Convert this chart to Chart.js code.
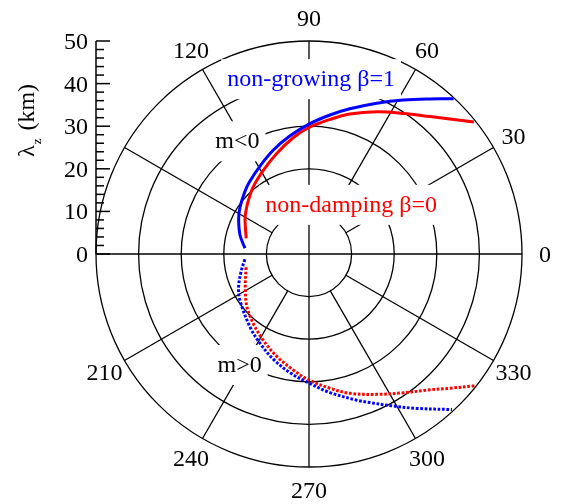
<!DOCTYPE html>
<html>
<head>
<meta charset="utf-8">
<script src="https://cdn.jsdelivr.net/npm/chart.js@4"></script>
<style>
  body { margin: 0; background: #fff; }
  #wrap { width: 562px; height: 504px; position: relative; }
</style>
</head>
<body>
<div id="wrap"><canvas id="polarChart"></canvas></div>
<script>
// polar angle in degrees, lambda_z in km
const thetaGrowingNeg = [174.9, 164.6, 153.2, 145.6, 135.8, 129.8, 119.3, 108.9, 99.1, 90, 81.4, 74.3, 65.8, 58.5, 52, 47];
const lambdaGrowingNeg = [15.1, 16.8, 18.5, 19.6, 21.0, 21.9, 23.6, 25.8, 28.1, 30.5, 33.0, 35.4, 38.8, 42.4, 46.2, 49.8];

const thetaDampingNeg = [166, 150.8, 143.7, 139.1, 129.6, 118.5, 107.8, 97.6, 90, 81, 73.8, 64.4, 56, 48.6, 43.8, 38.7];
const lambdaDampingNeg = [15.2, 17.2, 18.2, 18.9, 20.5, 22.4, 24.8, 27.6, 29.7, 32.0, 34.2, 37.0, 39.8, 43.0, 45.8, 49.6];

const thetaGrowingPos = [184.7, 193.4, 204.8, 213.7, 230.9, 241.2, 251.4, 260.8, 270, 278.6, 288.1, 292.3, 299, 304.9, 312.6];
const lambdaGrowingPos = [15.1, 16.3, 18.2, 19.5, 22.0, 23.9, 26.1, 28.2, 30.3, 32.9, 36.1, 37.7, 40.8, 44.2, 49.6];

const thetaDampingPos = [191.9, 207.7, 220.2, 231.2, 242, 252.5, 262.3, 270, 278.9, 286.4, 295.8, 304.2, 311.7, 316.4, 321.6];
const lambdaDampingPos = [15.1, 16.9, 19.1, 20.9, 22.9, 25.2, 27.5, 29.6, 31.9, 34.1, 36.6, 39.4, 42.7, 45.7, 49.8];

// rings, spokes and tick labels
const ringValues = [10, 20, 30, 40, 50];
const spokeAngles = [0, 30, 60, 90, 120, 150, 180, 210, 240, 270, 300, 330];
const angleLabels = [0, 30, 60, 90, 120, 210, 240, 270, 300, 330];
const radialLabels = [0, 10, 20, 30, 40, 50];

const FONT = '24px "Liberation Serif", "DejaVu Serif", serif';

// polar -> cartesian points for the scatter chart
function toXY(thetas, lambdas) {
    return thetas.map((t, i) => {
        const a = t * Math.PI / 180;
        return { x: lambdas[i] * Math.cos(a), y: lambdas[i] * Math.sin(a) };
    });
}

// text annotations (position in km on the x/y plane, at the text baseline)
const notes = [
    { text: 'non-growing \u03b2=1', color: '#0000ff', x: 0.5, y: 39.4 },
    { text: 'non-damping \u03b2=0', color: '#ff0000', x: 9.9, y: 9.9 },
    { text: 'm<0', color: '#000', x: -16.8, y: 24.8 },
    { text: 'm>0', color: '#000', x: -16.3, y: -27.7 }
];

const polarFrame = {
    id: 'polarFrame',
    beforeDatasetsDraw(chart) {
        const { ctx, scales: { x, y } } = chart;
        const pt = (r, deg) => {
            const a = deg * Math.PI / 180;
            return [x.getPixelForValue(r * Math.cos(a)), y.getPixelForValue(r * Math.sin(a))];
        };
        const cx = x.getPixelForValue(0), cy = y.getPixelForValue(0);
        ctx.save();
        ctx.strokeStyle = '#000';
        ctx.lineWidth = 1.3;

        // rings
        ringValues.forEach(r => {
            ctx.beginPath();
            ctx.arc(cx, cy, x.getPixelForValue(r) - cx, 0, 2 * Math.PI);
            ctx.stroke();
        });

        // spokes: main axes go through the centre, others start at the first ring
        spokeAngles.forEach(a => {
            const inner = (a % 90 === 0) ? 0 : ringValues[0];
            const p0 = pt(inner, a), p1 = pt(ringValues[ringValues.length - 1], a);
            ctx.beginPath();
            ctx.moveTo(p0[0], p0[1]);
            ctx.lineTo(p1[0], p1[1]);
            ctx.stroke();
        });

        // angle labels
        ctx.font = FONT;
        ctx.fillStyle = '#000';
        ctx.textAlign = 'center';
        ctx.textBaseline = 'alphabetic';
        angleLabels.forEach(a => {
            const p = pt(55.4, a);
            ctx.fillText(String(a), p[0], p[1] + 8);
        });

        // radial axis on the left
        const ax = x.getPixelForValue(-50);
        ctx.lineWidth = 1.5;
        ctx.beginPath();
        ctx.moveTo(ax, y.getPixelForValue(0));
        ctx.lineTo(ax, y.getPixelForValue(50));
        ctx.stroke();
        for (let v = 0; v <= 50; v += 2) {
            const py = y.getPixelForValue(v);
            const len = v % 10 === 0 ? 14 : 8;
            ctx.beginPath();
            ctx.moveTo(ax, py);
            ctx.lineTo(ax + len, py);
            ctx.stroke();
        }
        ctx.textAlign = 'right';
        radialLabels.forEach(v => {
            ctx.fillText(String(v), ax - 8, y.getPixelForValue(v) + 8);
        });

        // axis title: lambda_z (km), rotated
        ctx.save();
        ctx.translate(34, 157);
        ctx.rotate(-Math.PI / 2);
        ctx.textAlign = 'left';
        ctx.font = FONT;
        ctx.fillText('\u03bb', 0, 0);
        const lw = ctx.measureText('\u03bb').width;
        ctx.font = '13px "Liberation Serif", serif';
        ctx.fillText('z', lw + 1, 7);
        const zw = ctx.measureText('z').width;
        ctx.font = FONT;
        ctx.fillText(' (km)', lw + zw + 3, 0);
        ctx.restore();

        // annotations on white boxes
        ctx.font = FONT;
        ctx.textAlign = 'center';
        notes.forEach(n => {
            const px = x.getPixelForValue(n.x), py = y.getPixelForValue(n.y);
            const w = ctx.measureText(n.text).width;
            ctx.fillStyle = '#fff';
            ctx.fillRect(px - w / 2 - 6, py - 27, w + 12, 40);
            ctx.fillStyle = n.color;
            ctx.fillText(n.text, px, py);
        });
        ctx.restore();
    }
};

const lineStyle = { showLine: true, pointRadius: 0, borderWidth: 3, tension: 0.35, fill: false };

new Chart(document.getElementById('polarChart').getContext('2d'), {
    type: 'scatter',
    data: {
        datasets: [
            Object.assign({ label: 'non-growing m<0', data: toXY(thetaGrowingNeg, lambdaGrowingNeg), borderColor: '#0000ff' }, lineStyle),
            Object.assign({ label: 'non-damping m<0', data: toXY(thetaDampingNeg, lambdaDampingNeg), borderColor: '#ff0000' }, lineStyle),
            Object.assign({ label: 'non-growing m>0', data: toXY(thetaGrowingPos, lambdaGrowingPos), borderColor: '#0000ff', borderDash: [2.7, 1.7] }, lineStyle),
            Object.assign({ label: 'non-damping m>0', data: toXY(thetaDampingPos, lambdaDampingPos), borderColor: '#ff0000', borderDash: [2.7, 1.7] }, lineStyle)
        ]
    },
    options: {
        responsive: true,
        maintainAspectRatio: false,
        animation: false,
        clip: false,
        layout: { padding: { left: 96, right: 40, top: 41, bottom: 37 } },
        plugins: { legend: { display: false }, tooltip: { enabled: false } },
        scales: {
            x: { type: 'linear', min: -50, max: 50, display: false },
            y: { type: 'linear', min: -50, max: 50, display: false }
        }
    },
    plugins: [polarFrame]
});
</script>
</body>
</html>
